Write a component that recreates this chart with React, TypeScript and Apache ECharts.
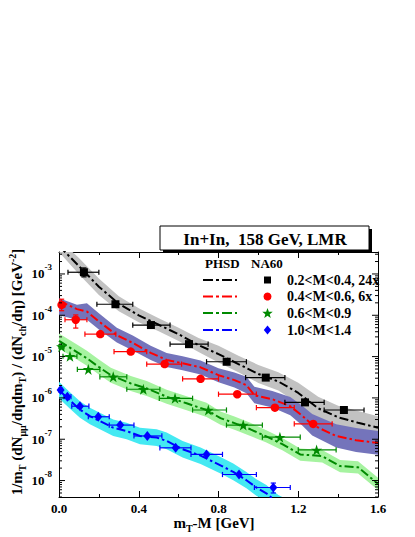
import React, { useEffect, useRef } from 'react';
import * as echarts from 'echarts';

const FONT = '"Liberation Serif", "Times New Roman", Times, serif';

// ---- axis ranges ----
const X_MIN = 0;
const X_MAX = 1.6;
const X_STEP = 0.4;
const Y_MIN = 4.0e-9;
const Y_MAX = 3.4e-3;

// ---- NA60 data: 0.2<M<0.4 (x24) ----
const blackX = [0.125, 0.283, 0.461, 0.652, 0.841, 1.037, 1.234, 1.429];
const blackY = [1.1e-3, 1.85e-4, 5.8e-5, 2.0e-5, 7.5e-6, 3.1e-6, 7.8e-7, 5.1e-7];
const blackXLo = [0.045, 0.19, 0.37, 0.557, 0.74, 0.936, 1.133, 1.33];
const blackXHi = [0.2, 0.37, 0.557, 0.748, 0.94, 1.133, 1.33, 1.53];
const blackYLo = [8.5e-4, null, null, null, null, null, null, null];
const blackYHi = [1.4e-3, null, null, null, null, null, null, null];

// ---- NA60 data: 0.4<M<0.6 (x6) ----
const redX = [0.013, 0.084, 0.207, 0.36, 0.53, 0.71, 0.894, 1.083, 1.275];
const redY = [1.78e-4, 7.8e-5, 3.5e-5, 1.32e-5, 6.6e-6, 2.9e-6, 1.23e-6, 5.8e-7, 2.35e-7];
const redXLo = [0.003, 0.03, 0.13, 0.276, 0.44, 0.62, 0.8, 0.99, 1.18];
const redXHi = [0.03, 0.14, 0.285, 0.44, 0.615, 0.8, 0.99, 1.18, 1.37];
const redYLo = [1.29e-4, 4.9e-5, null, null, null, null, null, null, null];
const redYHi = [2.45e-4, 1.02e-4, null, null, null, null, null, null, null];

// ---- NA60 data: 0.6<M<0.9 ----
const greenX = [0.013, 0.055, 0.147, 0.272, 0.423, 0.582, 0.749, 0.924, 1.108, 1.292];
const greenY = [1.74e-5, 1.02e-5, 4.9e-6, 3.24e-6, 1.62e-6, 9.8e-7, 5.1e-7, 2.2e-7, 1.12e-7, 5.5e-8];
const greenXLo = [0.0, 0.02, 0.092, 0.205, 0.34, 0.503, 0.67, 0.84, 1.02, 1.2];
const greenXHi = [0.025, 0.09, 0.205, 0.34, 0.506, 0.67, 0.84, 1.02, 1.21, 1.39];
const greenYLo = [null, null, null, null, null, null, null, null, null, null];
const greenYHi = [null, null, null, null, null, null, null, null, null, null];

// ---- NA60 data: 1.0<M<1.4 ----
const blueX = [0.008, 0.042, 0.105, 0.197, 0.307, 0.443, 0.585, 0.74, 0.903, 1.075];
const blueY = [1.55e-6, 1.07e-6, 6.3e-7, 3.5e-7, 2.2e-7, 1.2e-7, 6.2e-8, 4.3e-8, 1.4e-8, 6.8e-9];
const blueXLo = [0.0, 0.025, 0.064, 0.147, 0.252, 0.376, 0.506, 0.662, 0.82, 0.98];
const blueXHi = [0.015, 0.06, 0.15, 0.252, 0.376, 0.516, 0.662, 0.82, 0.99, 1.16];
const blueYLo = [null, null, null, null, null, null, null, null, null, 5.0e-9];
const blueYHi = [null, null, null, null, null, null, null, null, null, 8.7e-9];

// ---- PHSD curves and bands ----
const phsdBlackX = [0.0, 0.1, 0.2, 0.3, 0.4, 0.5, 0.6, 0.7, 0.8, 0.9, 1.0, 1.1, 1.2, 1.3, 1.4, 1.5, 1.6];
const phsdBlackY = [4.79e-3, 1.55e-3, 4.9e-4, 1.9e-4, 1.0e-4, 5.9e-5, 3.47e-5, 1.9e-5, 1.15e-5, 6.6e-6, 3.8e-6, 2.5e-6, 1.32e-6, 5.6e-7, 3.4e-7, 2.5e-7, 1.9e-7];
const phsdBlackHi = [6.76e-3, 2.45e-3, 7.76e-4, 2.88e-4, 1.48e-4, 8.5e-5, 5.0e-5, 2.82e-5, 1.82e-5, 1.05e-5, 6.3e-6, 4.2e-6, 2.34e-6, 1.07e-6, 6.5e-7, 4.8e-7, 3.6e-7];
const phsdBlackLo = [3.4e-3, 9.8e-4, 3.1e-4, 1.26e-4, 6.8e-5, 4.1e-5, 2.4e-5, 1.29e-5, 7.2e-6, 4.2e-6, 2.3e-6, 1.51e-6, 7.4e-7, 2.95e-7, 1.78e-7, 1.32e-7, 1.0e-7];

const phsdRedX = [0.0, 0.09, 0.14, 0.2, 0.29, 0.37, 0.46, 0.54, 0.62, 0.71, 0.8, 0.88, 0.94, 0.98, 1.07, 1.16, 1.22, 1.27, 1.39, 1.49, 1.6];
const phsdRedY = [2.24e-4, 1.41e-4, 1.23e-4, 7.1e-5, 3.3e-5, 2.14e-5, 1.23e-5, 8.3e-6, 6.9e-6, 5.5e-6, 3.55e-6, 2.7e-6, 2.04e-6, 1.17e-6, 9.3e-7, 6.3e-7, 3.7e-7, 2.24e-7, 1.2e-7, 9.5e-8, 8.1e-8];
const phsdRedHi = [2.6e-4, 1.8e-4, 1.95e-4, 1.12e-4, 5.0e-5, 3.24e-5, 1.82e-5, 1.23e-5, 1.02e-5, 8.1e-6, 5.2e-6, 4.1e-6, 3.24e-6, 1.86e-6, 1.48e-6, 1.05e-6, 6.5e-7, 4.1e-7, 2.3e-7, 1.86e-7, 1.58e-7];
const phsdRedLo = [1.0e-4, 7.8e-5, 7.8e-5, 4.5e-5, 2.19e-5, 1.41e-5, 8.3e-6, 5.6e-6, 4.7e-6, 3.7e-6, 2.4e-6, 1.78e-6, 1.29e-6, 7.4e-7, 5.9e-7, 3.8e-7, 2.14e-7, 1.23e-7, 6.3e-8, 4.9e-8, 4.2e-8];

const phsdGreenX = [0.0, 0.09, 0.14, 0.2, 0.26, 0.36, 0.44, 0.54, 0.64, 0.74, 0.81, 0.88, 0.96, 1.04, 1.12, 1.21, 1.32, 1.41, 1.5, 1.6];
const phsdGreenY = [2.4e-5, 1.29e-5, 9.1e-6, 5.6e-6, 3.55e-6, 2.24e-6, 1.7e-6, 1.07e-6, 7.4e-7, 5.1e-7, 3.24e-7, 2.45e-7, 1.74e-7, 1.17e-7, 7.6e-8, 4.3e-8, 3.9e-8, 2.24e-8, 2.1e-8, 8.3e-9];
const phsdGreenHi = [3.63e-5, 1.95e-5, 1.38e-5, 8.5e-6, 5.4e-6, 3.4e-6, 2.57e-6, 1.58e-6, 1.1e-6, 7.6e-7, 4.7e-7, 3.55e-7, 2.5e-7, 1.66e-7, 1.07e-7, 6.0e-8, 5.5e-8, 3.16e-8, 2.95e-8, 1.17e-8];
const phsdGreenLo = [1.58e-5, 8.5e-6, 6.0e-6, 3.7e-6, 2.34e-6, 1.48e-6, 1.12e-6, 7.2e-7, 5.0e-7, 3.47e-7, 2.24e-7, 1.7e-7, 1.2e-7, 8.3e-8, 5.4e-8, 3.0e-8, 2.75e-8, 1.58e-8, 1.48e-8, 5.9e-9];

const phsdBlueX = [0.0, 0.055, 0.105, 0.155, 0.205, 0.272, 0.339, 0.406, 0.49, 0.54, 0.62, 0.71, 0.81, 0.874, 0.94, 0.99, 1.04, 1.1, 1.2];
const phsdBlueY = [1.55e-6, 8.7e-7, 5.2e-7, 3.63e-7, 2.75e-7, 1.9e-7, 1.58e-7, 1.2e-7, 1.1e-7, 9.1e-8, 5.75e-8, 4.0e-8, 2.34e-8, 1.62e-8, 1.02e-8, 6.8e-9, 4.9e-9, 2.8e-9, 1.58e-9];
const phsdBlueHi = [2.45e-6, 1.38e-6, 8.3e-7, 5.75e-7, 4.4e-7, 3.0e-7, 2.5e-7, 1.9e-7, 1.74e-7, 1.45e-7, 9.1e-8, 6.3e-8, 3.7e-8, 2.57e-8, 1.62e-8, 1.07e-8, 7.8e-9, 4.5e-9, 2.5e-9];
const phsdBlueLo = [9.8e-7, 5.5e-7, 3.3e-7, 2.3e-7, 1.74e-7, 1.2e-7, 1.0e-7, 7.6e-8, 6.9e-8, 5.75e-8, 3.63e-8, 2.5e-8, 1.48e-8, 1.02e-8, 6.5e-9, 4.3e-9, 3.1e-9, 1.78e-9, 1.0e-9];

// ---- legend labels ----
const legendLabels = ['0.2<M<0.4, 24x', '0.4<M<0.6, 6x', '0.6<M<0.9', '1.0<M<1.4'];
const titleText = 'In+In,  158 GeV, LMR';

const COLORS = ['#000000', '#ff0000', '#008a00', '#0000ff'];
const BAND_COLORS = ['#c2c2c2', '#7474bb', '#a6f3a0', '#44e9f2'];
const DASH = [9, 3, 2.5, 3];
const STAR_PATH = 'path://M50,0 L61.8,35.5 L99,35.5 L69,57.5 L80.5,93 L50,71 L19.5,93 L31,57.5 L1,35.5 L38.2,35.5 Z';

function bandSeries(xs: number[], hi: number[], lo: number[], color: string) {
  const mid = Math.floor(xs.length / 2);
  return {
    type: 'custom',
    coordinateSystem: 'cartesian2d',
    xAxisIndex: 0,
    yAxisIndex: 0,
    clip: true,
    silent: true,
    z: 1,
    data: [[xs[mid], lo[mid]]],
    renderItem: (_p: any, api: any) => {
      const pts: number[][] = [];
      for (let i = 0; i < xs.length; i++) pts.push(api.coord([xs[i], hi[i]]));
      for (let i = xs.length - 1; i >= 0; i--) pts.push(api.coord([xs[i], lo[i]]));
      return { type: 'polygon', shape: { points: pts }, style: { fill: color } };
    },
  };
}

function lineSeries(xs: number[], ys: number[], color: string) {
  return {
    type: 'line',
    xAxisIndex: 0,
    yAxisIndex: 0,
    data: xs.map((x, i) => [x, ys[i]]),
    showSymbol: false,
    symbol: 'none',
    silent: true,
    z: 3,
    lineStyle: { color, width: 2, type: DASH },
  };
}

function errorSeries(xs: number[], ys: number[], xlo: number[], xhi: number[], ylo: (number | null)[], yhi: (number | null)[], color: string) {
  return {
    type: 'custom',
    coordinateSystem: 'cartesian2d',
    xAxisIndex: 0,
    yAxisIndex: 0,
    silent: true,
    z: 5,
    data: xs.map((x, i) => [x, ys[i], xlo[i], xhi[i], ylo[i] ?? ys[i], yhi[i] ?? ys[i]]),
    encode: { x: 0, y: 1 },
    renderItem: (_p: any, api: any) => {
      const x = api.value(0);
      const y = api.value(1);
      const st = { stroke: color, lineWidth: 1.2 };
      const cap = 2.6;
      const pL = api.coord([api.value(2), y]);
      const pR = api.coord([api.value(3), y]);
      const children: any[] = [
        { type: 'line', shape: { x1: pL[0], y1: pL[1], x2: pR[0], y2: pR[1] }, style: st },
        { type: 'line', shape: { x1: pL[0], y1: pL[1] - cap, x2: pL[0], y2: pL[1] + cap }, style: st },
        { type: 'line', shape: { x1: pR[0], y1: pR[1] - cap, x2: pR[0], y2: pR[1] + cap }, style: st },
      ];
      const yl = api.value(4);
      const yh = api.value(5);
      if (yl !== y || yh !== y) {
        const pB = api.coord([x, yl]);
        const pT = api.coord([x, yh]);
        children.push(
          { type: 'line', shape: { x1: pB[0], y1: pB[1], x2: pT[0], y2: pT[1] }, style: st },
          { type: 'line', shape: { x1: pB[0] - cap, y1: pB[1], x2: pB[0] + cap, y2: pB[1] }, style: st },
          { type: 'line', shape: { x1: pT[0] - cap, y1: pT[1], x2: pT[0] + cap, y2: pT[1] }, style: st },
        );
      }
      return { type: 'group', children };
    },
  };
}

function scatterSeries(xs: number[], ys: number[], color: string, symbol: string, size: any) {
  return {
    type: 'scatter',
    xAxisIndex: 0,
    yAxisIndex: 0,
    silent: true,
    z: 6,
    symbol,
    symbolSize: size,
    itemStyle: { color, opacity: 1 },
    data: xs.map((x, i) => [x, ys[i]]),
  };
}

function logTickSeries() {
  const vals: number[][] = [];
  for (let e = -9; e <= -3; e++) {
    for (let m = 1; m <= 9; m++) {
      const v = m * Math.pow(10, e);
      if (v >= Y_MIN && v <= Y_MAX) vals.push([0.8, v, m === 1 ? 1 : 0]);
    }
  }
  return {
    type: 'custom',
    coordinateSystem: 'cartesian2d',
    xAxisIndex: 0,
    yAxisIndex: 0,
    silent: true,
    z: 10,
    data: vals,
    encode: { x: 0, y: 1 },
    renderItem: (_p: any, api: any) => {
      const v = api.value(1);
      const len = api.value(2) ? 6 : 3;
      const a = api.coord([X_MIN, v]);
      const b = api.coord([X_MAX, v]);
      const st = { stroke: '#000', lineWidth: 1 };
      return {
        type: 'group',
        children: [
          { type: 'line', shape: { x1: a[0], y1: a[1], x2: a[0] + len, y2: a[1] }, style: st },
          { type: 'line', shape: { x1: b[0] - len, y1: b[1], x2: b[0], y2: b[1] }, style: st },
        ],
      };
    },
  };
}

function starPoints(cx: number, cy: number, r: number) {
  const pts: number[][] = [];
  for (let i = 0; i < 10; i++) {
    const rr = i % 2 === 0 ? r : r * 0.42;
    const a = -Math.PI / 2 + (i * Math.PI) / 5;
    pts.push([cx + rr * Math.cos(a), cy + rr * Math.sin(a)]);
  }
  return pts;
}

function buildOption() {
  const bold = { fontFamily: FONT, fontWeight: 'bold', color: '#000' };
  const legendRows = [280, 296.5, 313, 330];
  const lx1 = 203;
  const lx2 = 237;
  const mx = 267.5;
  const tx = 287;

  const legendGraphics: any[] = [
    { type: 'text', x: 205, y: 263, style: { text: 'PHSD', font: `bold 13px ${FONT}`, fill: '#000', align: 'left', verticalAlign: 'middle' } },
    { type: 'text', x: 251, y: 263, style: { text: 'NA60', font: `bold 13px ${FONT}`, fill: '#000', align: 'left', verticalAlign: 'middle' } },
  ];
  legendRows.forEach((y, i) => {
    legendGraphics.push({
      type: 'line',
      shape: { x1: lx1, y1: y, x2: lx2, y2: y },
      style: { stroke: COLORS[i], lineWidth: 2, lineDash: [10, 3, 3, 3] },
    });
    legendGraphics.push({
      type: 'text',
      x: tx,
      y: y,
      style: { text: legendLabels[i], font: `bold 14px ${FONT}`, fill: '#000', align: 'left', verticalAlign: 'middle' },
    });
  });
  legendGraphics.push({ type: 'rect', shape: { x: mx - 3.5, y: legendRows[0] - 3.5, width: 7, height: 7 }, style: { fill: COLORS[0] } });
  legendGraphics.push({ type: 'circle', shape: { cx: mx, cy: legendRows[1], r: 4 }, style: { fill: COLORS[1] } });
  legendGraphics.push({ type: 'polygon', shape: { points: starPoints(mx, legendRows[2] + 0.5, 5.5) }, style: { fill: COLORS[2] } });
  legendGraphics.push({
    type: 'polygon',
    shape: { points: [[mx, legendRows[3] - 4.5], [mx + 3.7, legendRows[3]], [mx, legendRows[3] + 4.5], [mx - 3.7, legendRows[3]]] },
    style: { fill: COLORS[3] },
  });

  const yRich = {
    b: { ...bold, fontSize: 15, lineHeight: 20 },
    sub: { ...bold, fontSize: 10, lineHeight: 10, verticalAlign: 'bottom' },
    sup: { ...bold, fontSize: 10, lineHeight: 10, verticalAlign: 'top' },
  };

  return {
    animation: false,
    backgroundColor: '#ffffff',
    textStyle: { fontFamily: FONT },
    grid: { left: 59, top: 252, width: 319, height: 245, containLabel: false },
    xAxis: [
      {
        type: 'value',
        min: X_MIN,
        max: X_MAX,
        interval: X_STEP,
        position: 'bottom',
        axisLine: { show: true, onZero: false, lineStyle: { color: '#000', width: 1 } },
        axisTick: { show: true, inside: true, length: 6, lineStyle: { color: '#000' } },
        minorTick: { show: true, splitNumber: 2, length: 3, lineStyle: { color: '#000' } },
        splitLine: { show: false },
        minorSplitLine: { show: false },
        axisLabel: { ...bold, fontSize: 13, margin: 5, formatter: (v: number) => v.toFixed(1) },
      },
      {
        type: 'value',
        min: X_MIN,
        max: X_MAX,
        interval: X_STEP,
        position: 'top',
        axisLine: { show: true, onZero: false, lineStyle: { color: '#000', width: 1 } },
        axisTick: { show: true, inside: true, length: 6, lineStyle: { color: '#000' } },
        minorTick: { show: true, splitNumber: 2, length: 3, lineStyle: { color: '#000' } },
        splitLine: { show: false },
        axisLabel: { show: false },
      },
    ],
    yAxis: [
      {
        type: 'log',
        logBase: 10,
        min: Y_MIN,
        max: Y_MAX,
        position: 'left',
        axisLine: { show: true, onZero: false, lineStyle: { color: '#000', width: 1 } },
        axisTick: { show: false },
        splitLine: { show: false },
        axisLabel: {
          margin: 7,
          color: '#000',
          formatter: (v: number) => {
            const e = Math.log10(v);
            const r = Math.round(e);
            if (Math.abs(e - r) > 1e-6) return '';
            return `{b|10}{s|${r}}`;
          },
          rich: {
            b: { ...bold, fontSize: 13, lineHeight: 22 },
            s: { ...bold, fontSize: 9, lineHeight: 10, verticalAlign: 'top' },
          },
        },
      },
      {
        type: 'log',
        logBase: 10,
        min: Y_MIN,
        max: Y_MAX,
        position: 'right',
        axisLine: { show: true, onZero: false, lineStyle: { color: '#000', width: 1 } },
        axisTick: { show: false },
        splitLine: { show: false },
        axisLabel: { show: false },
      },
    ],
    series: [
      bandSeries(phsdBlackX, phsdBlackHi, phsdBlackLo, BAND_COLORS[0]),
      bandSeries(phsdRedX, phsdRedHi, phsdRedLo, BAND_COLORS[1]),
      bandSeries(phsdGreenX, phsdGreenHi, phsdGreenLo, BAND_COLORS[2]),
      bandSeries(phsdBlueX, phsdBlueHi, phsdBlueLo, BAND_COLORS[3]),
      lineSeries(phsdBlackX, phsdBlackY, COLORS[0]),
      lineSeries(phsdRedX, phsdRedY, COLORS[1]),
      lineSeries(phsdGreenX, phsdGreenY, COLORS[2]),
      lineSeries(phsdBlueX, phsdBlueY, COLORS[3]),
      errorSeries(blackX, blackY, blackXLo, blackXHi, blackYLo, blackYHi, COLORS[0]),
      errorSeries(redX, redY, redXLo, redXHi, redYLo, redYHi, COLORS[1]),
      errorSeries(greenX, greenY, greenXLo, greenXHi, greenYLo, greenYHi, COLORS[2]),
      errorSeries(blueX, blueY, blueXLo, blueXHi, blueYLo, blueYHi, COLORS[3]),
      scatterSeries(blackX, blackY, COLORS[0], 'rect', 8),
      scatterSeries(redX, redY, COLORS[1], 'circle', 8.5),
      scatterSeries(greenX, greenY, COLORS[2], STAR_PATH, 11),
      scatterSeries(blueX, blueY, COLORS[3], 'diamond', [8, 10]),
      logTickSeries(),
    ],
    graphic: [
      // title box with shadow
      { type: 'rect', z: 100, shape: { x: 163, y: 229, width: 209, height: 24 }, style: { fill: '#000' } },
      { type: 'rect', z: 101, shape: { x: 160, y: 226, width: 209, height: 24 }, style: { fill: '#fff', stroke: '#000', lineWidth: 1 } },
      {
        type: 'text',
        z: 102,
        x: 265,
        y: 239,
        style: { text: titleText, font: `bold 17px ${FONT}`, fill: '#000', align: 'center', verticalAlign: 'middle' },
      },
      ...legendGraphics.map((g) => ({ ...g, z: 50 })),
      // y-axis title
      {
        type: 'text',
        z: 50,
        x: 17,
        y: 372,
        rotation: Math.PI / 2,
        style: {
          text: '{b|1/m}{sub|T}{b| (dN}{sub|μμ}{b|/dηdm}{sub|T}{b|) / (dN}{sub|ch}{b|/dη) [GeV}{sup|-2}{b|]}',
          rich: yRich,
          align: 'center',
          verticalAlign: 'middle',
          fill: '#000',
        },
      },
      // x-axis title
      {
        type: 'text',
        z: 50,
        x: 214,
        y: 523,
        style: {
          text: '{b|m}{sub|T}{b|-M [GeV]}',
          rich: yRich,
          align: 'center',
          verticalAlign: 'middle',
          fill: '#000',
        },
      },
    ],
  };
}

export default function App() {
  const ref = useRef<HTMLDivElement>(null);
  useEffect(() => {
    if (!ref.current) return;
    const chart = echarts.init(ref.current, null, { renderer: 'svg' });
    chart.setOption(buildOption() as any);
    return () => chart.dispose();
  }, []);
  return (
    <div
      ref={ref}
      style={{ position: 'fixed', left: 0, top: 0, width: 415, height: 537, background: '#fff' }}
    />
  );
}
